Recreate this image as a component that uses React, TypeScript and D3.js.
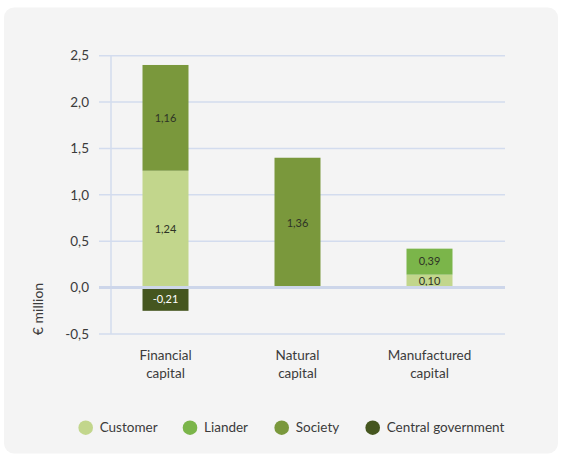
import React from "react";
import * as d3 from "d3";

const categories = ["Financial capital", "Natural capital", "Manufactured capital"];
const categoryLines = [["Financial", "capital"], ["Natural", "capital"], ["Manufactured", "capital"]];
const seriesNames = ["Customer", "Liander", "Society", "Central government"];
const seriesColors = ["#c2d68c", "#7bb54a", "#7a983c", "#45561f"];
// bar values as drawn (€ million)
const customerValues = [1.26, 0, 0.14];
const lianderValues = [0, 0, 0.28];
const societyValues = [1.14, 1.4, 0];
const governmentValues = [-0.25, 0, 0];
// printed labels
const customerLabels = ["1,24", "", "0,10"];
const lianderLabels = ["", "", "0,39"];
const societyLabels = ["1,16", "1,36", ""];
const governmentLabels = ["-0,21", "", ""];
const yTicks = [-0.5, 0, 0.5, 1.0, 1.5, 2.0, 2.5];

const W = 561;
const H = 457;
const FONT = "Lato, 'Open Sans', sans-serif";

export default function App() {
  const y = d3.scaleLinear().domain([-0.5, 2.5]).range([334, 55.7]);
  const x = d3.scaleBand<string>().domain(categories).range([99.5, 495.5]).padding(0);
  const barW = 46;
  const series = [customerValues, lianderValues, societyValues, governmentValues];
  const labels = [customerLabels, lianderLabels, societyLabels, governmentLabels];

  const segs: any[] = [];
  categories.forEach((c, ci) => {
    let pos = 0;
    let neg = 0;
    series.forEach((vals, si) => {
      const v = vals[ci];
      if (!v) return;
      let y0, y1;
      if (v >= 0) {
        y0 = pos;
        y1 = pos + v;
        pos = y1;
      } else {
        y0 = neg + v;
        y1 = neg;
        neg = y0;
      }
      segs.push({ ci, si, y0, y1, label: labels[si][ci] });
    });
  });

  const fmt = (v: number) => d3.format(".1f")(v).replace(".", ",").replace("\u2212", "-");
  const legendX = [85.7, 190, 281.7, 372.7];

  return (
    <svg width={W} height={H} style={{ position: "absolute", left: 0, top: 0 }} fontFamily={FONT}>
      <rect x={0} y={0} width={W} height={H} fill="#ffffff" />
      <rect x={4} y={7.5} width={554} height={446} rx={10} fill="#f4f4f4" />
      {yTicks.map((t) => (
        <g key={t}>
          {t !== 0 && (
            <line x1={99} x2={505} y1={y(t)} y2={y(t)} stroke="#d3dcee" strokeWidth={1.5} />
          )}
          <text x={89} y={y(t)} dy="0.35em" textAnchor="end" fontSize={13.5} fill="#3b3b3b">
            {fmt(t)}
          </text>
        </g>
      ))}
      <line x1={111} x2={111} y1={y(2.5)} y2={y(-0.5)} stroke="#d3dcee" strokeWidth={1.5} />
      {segs.map((s, i) => {
        const cx = (x(categories[s.ci]) as number) + x.bandwidth() / 2;
        return (
          <g key={i}>
            <rect
              x={cx - barW / 2}
              y={y(s.y1)}
              width={barW}
              height={y(s.y0) - y(s.y1)}
              fill={seriesColors[s.si]}
            />
            {s.label && (
              <text
                x={cx}
                y={(y(s.y0) + y(s.y1)) / 2}
                dy="0.35em"
                textAnchor="middle"
                fontSize={11}
                fill={s.si === 3 ? "#ffffff" : "#2e3326"}
              >
                {s.label}
              </text>
            )}
          </g>
        );
      })}
      <line x1={99} x2={505} y1={y(0)} y2={y(0)} stroke="#cdd6ea" strokeWidth={3} />
      {categoryLines.map((lines, ci) => {
        const cx = (x(categories[ci]) as number) + x.bandwidth() / 2;
        return (
          <text key={ci} x={cx} textAnchor="middle" fontSize={13.5} fill="#3b3b3b">
            {lines.map((l, li) => (
              <tspan key={li} x={cx} y={360 + li * 17.5}>
                {l}
              </tspan>
            ))}
          </text>
        );
      })}
      <text
        transform={`translate(38,309) rotate(-90)`}
        textAnchor="middle"
        dy="0.35em"
        fontSize={14}
        fill="#3b3b3b"
      >
        € million
      </text>
      {seriesNames.map((n, i) => (
        <g key={n}>
          <circle cx={legendX[i]} cy={427.7} r={7.3} fill={seriesColors[i]} />
          <text x={legendX[i] + 14} y={427.7} dy="0.35em" fontSize={13.5} fill="#3b3b3b">
            {n}
          </text>
        </g>
      ))}
    </svg>
  );
}
